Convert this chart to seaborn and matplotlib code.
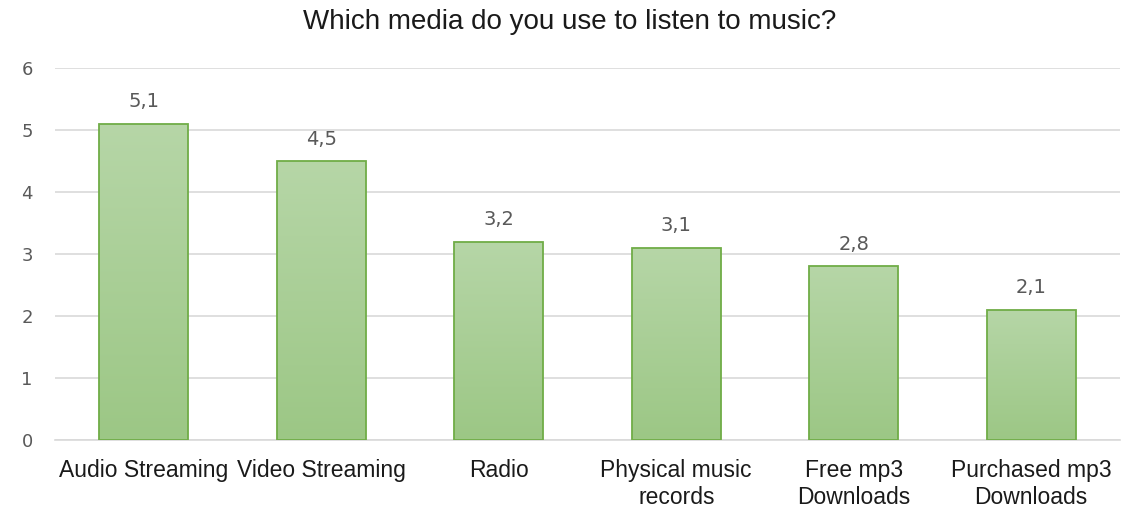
import numpy as np
import pandas as pd
import matplotlib
matplotlib.use('Agg')
import matplotlib.pyplot as plt
import seaborn as sns

'''Chart data'''
categories = ['Audio Streaming', 'Video Streaming', 'Radio', 'Physical music\nrecords',
              'Free mp3\nDownloads', 'Purchased mp3\nDownloads']
values = [5.1, 4.5, 3.2, 3.1, 2.8, 2.1]
value_labels = ['5,1', '4,5', '3,2', '3,1', '2,8', '2,1']
y_ticks = [0, 1, 2, 3, 4, 5, 6]

df = pd.DataFrame({'media': categories, 'score': values})

sns.set_style('white')
plt.rcParams['font.family'] = ['Liberation Sans', 'DejaVu Sans']

fig = plt.figure(figsize=(11.39, 5.21), dpi=100)
ax = fig.add_axes([55 / 1139, 1 - 440 / 521, 1065 / 1139, 372 / 521])

sns.barplot(data=df, x='media', y='score', ax=ax, width=0.5,
            color='#a9d08e', edgecolor='#70ad47', linewidth=1.3, zorder=3)

# gradient fill inside each bar
grad = np.linspace(0, 1, 256).reshape(-1, 1)
cmap = matplotlib.colors.LinearSegmentedColormap.from_list('g', ['#9cc785', '#b6d6a7'])
for patch in ax.patches:
    x0, y0 = patch.get_x(), patch.get_y()
    w, h = patch.get_width(), patch.get_height()
    im = ax.imshow(grad, extent=[x0, x0 + w, y0, y0 + h], origin='lower',
                   cmap=cmap, aspect='auto', zorder=3.5)
    im.set_clip_path(patch)
    patch.set_facecolor('none')
    patch.set_zorder(4)

for i, lab in enumerate(value_labels):
    ax.text(i, values[i] + 0.2, lab, ha='center', va='bottom',
            fontsize=14, color='#595959', family='DejaVu Sans')

ax.set_xlim(-0.5, len(categories) - 0.5)
ax.set_ylim(0, 6)
ax.set_yticks(y_ticks)
ax.set_yticklabels([str(t) for t in y_ticks], color='#595959', fontsize=13, family='DejaVu Sans')
ax.tick_params(axis='y', length=0, pad=16)
ax.tick_params(axis='x', length=0, pad=14, labelsize=16.5, labelcolor='#1a1a1a')
for t in ax.get_xticklabels():
    t.set_linespacing(1.2)
ax.yaxis.grid(True, color='#d9d9d9', linewidth=1.2, zorder=0)
ax.set_axisbelow(True)
for s in ['top', 'right', 'left']:
    ax.spines[s].set_visible(False)
ax.spines['bottom'].set_color('#d9d9d9')
ax.spines['bottom'].set_linewidth(1.2)
ax.set_xlabel('')
ax.set_ylabel('')

fig.suptitle('Which media do you use to listen to music?', y=1 - 22 / 521, va='center',
             fontsize=20, color='#1a1a1a')

fig.savefig('out.png', dpi=100)
